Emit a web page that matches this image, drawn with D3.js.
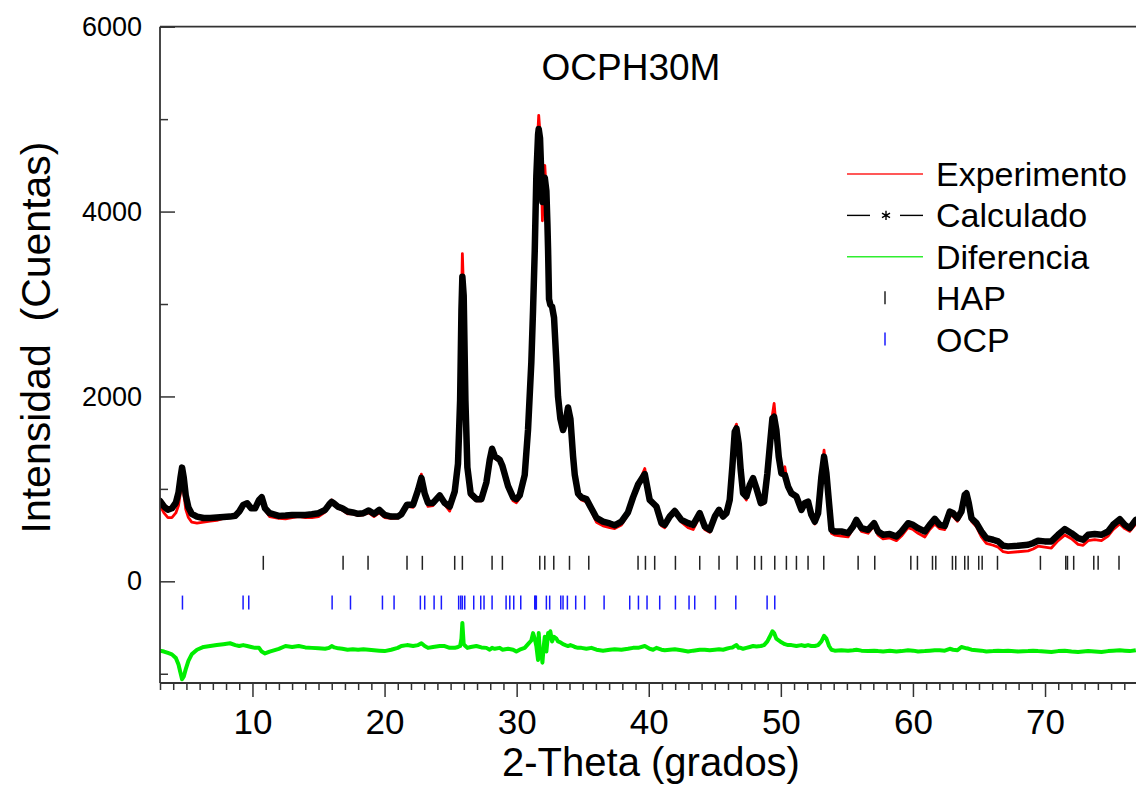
<!DOCTYPE html>
<html><head><meta charset="utf-8">
<script src="https://cdn.jsdelivr.net/npm/d3@7"></script>
<style>
html,body{margin:0;padding:0;background:#fff;}
svg{display:block;font-family:"Liberation Sans",Arial,sans-serif;}
</style></head>
<body>
<svg id="chart" width="1136" height="787"></svg>
<script>
// ---- DATA ----
const chartTitle = "OCPH30M";
const xTitle = "2-Theta (grados)";
const yTitle = "Intensidad  (Cuentas)";
const legendLabels = ["Experimento", "Calculado", "Diferencia", "HAP", "OCP"];
const xTickLabels = [10, 20, 30, 40, 50, 60, 70];
const yTickLabels = [0, 2000, 4000, 6000];

const twoTheta = [3.0,3.3,3.6,3.9,4.2,4.4,4.55,4.67,4.8,4.95,5.15,5.4,5.8,6.3,6.8,7.3,7.8,8.3,8.7,9.0,9.3,9.6,9.9,10.2,10.5,10.7,10.95,11.3,12.0,12.5,13.0,13.5,14.0,14.5,15.0,15.5,15.8,16.0,16.2,16.5,16.8,17.2,17.6,18.0,18.4,18.8,19.2,19.6,20.0,20.5,21.0,
21.27,21.7,22.16,22.54,22.79,23.04,23.29,23.67,24.18,24.55,24.93,25.31,25.56,25.72,25.82,25.89,25.99,26.12,26.27,26.52,26.95,27.33,27.71,27.96,28.14,28.34,28.72,28.92,29.35,29.73,29.98,30.23,30.61,30.86,31.11,31.24,31.37,31.49,31.62,31.67,31.77,31.87,31.95,32.05,32.13,32.25,32.33,32.38,32.45,32.55,32.68,32.83,33.01,33.13,33.31,33.51,33.69,33.89,34.07,34.27,34.4,34.65,34.9,35.28,35.66,36.04,36.54,37.05,37.42,37.93,38.43,38.81,
39.2,39.7,40.07,40.33,40.58,40.96,41.21,41.59,41.97,42.47,42.98,43.36,43.86,44.24,44.62,45.0,45.32,45.63,45.88,46.13,46.33,46.51,46.64,46.81,46.96,47.14,47.39,47.65,47.9,48.15,48.48,48.73,48.98,49.16,49.36,49.49,49.66,49.84,50.04,50.3,50.55,50.8,51.18,51.56,51.81,52.06,52.31,52.57,52.82,53.07,53.27,53.45,53.65,53.83,54.08,54.58,55.09,55.47,55.72,56.1,56.6,57.06,
57.36,57.74,58.25,58.75,59.13,59.63,60.01,60.39,60.9,61.27,61.65,62.03,62.41,62.79,63.04,63.37,63.67,63.92,64.05,64.23,64.43,64.81,65.18,65.56,66.07,66.45,66.83,67.2,67.96,68.72,69.1,69.47,69.98,70.48,70.99,71.49,72.0,72.5,72.88,73.26,73.76,74.27,74.77,75.15,75.66,76.04,76.41,76.87];

const calculado = [870,810,775,790,850,960,1120,1230,1120,930,800,730,700,685,685,690,695,700,710,755,827,845,790,790,880,910,790,737,708,712,718,718,718,725,737,773,830,860,840,805,790,755,745,730,737,766,730,773,718,700,700,
726,828,828,989,1120,949,848,848,929,848,808,970,1273,1960,2931,3296,3093,1960,1232,949,889,889,1071,1313,1434,1354,1313,1250,1030,908,889,929,1151,1637,2365,2931,3578,4387,4832,4894,4793,4387,4104,4306,4367,4225,3861,3578,3053,2993,2972,2852,2365,2001,1758,1637,1718,1880,1758,1354,1151,949,908,889,788,687,646,626,606,646,747,908,
1050,1160,881,845,809,629,611,701,760,665,629,611,737,593,557,701,773,701,737,881,1241,1618,1654,1492,1205,953,917,1043,1115,1007,845,863,1169,1456,1762,1780,1636,1349,1169,1151,1025,953,917,773,845,863,719,647,737,1133,1349,1169,845,557,539,539,521,593,665,575,557,629,
539,503,511,485,539,629,611,575,539,611,676,611,600,755,737,683,755,935,953,845,683,629,539,467,450,432,385,378,385,396,414,439,432,432,503,565,521,467,450,503,511,503,539,611,672,611,575,665];

const experimento = [820,740,690,690,740,820,960,1100,950,780,690,640,630,640,650,660,680,690,700,740,830,850,780,780,870,890,770,700,680,675,690,700,690,690,700,750,820,880,830,790,770,730,730,710,720,740,700,740,690,680,685,
710,810,800,980,1160,920,810,820,940,830,760,950,1250,1950,3000,3545,3100,1900,1200,920,870,870,1060,1280,1420,1330,1300,1220,1010,870,850,900,1140,1640,2360,2900,3560,4400,4900,5040,4850,4400,3900,4350,4500,4200,3850,3550,3050,3000,2950,2850,2400,2000,1750,1620,1700,1860,1740,1350,1130,930,880,860,760,640,600,580,570,610,720,890,
1050,1220,870,830,790,600,580,680,750,640,580,560,700,560,530,680,760,690,730,870,1240,1650,1700,1480,1200,940,880,1030,1110,1000,830,840,1160,1450,1800,1924,1650,1350,1160,1240,1010,940,900,760,860,850,700,620,720,1130,1420,1160,840,520,500,490,480,570,640,540,520,600,
500,460,470,440,490,580,560,520,480,560,620,570,560,720,700,650,720,900,930,820,650,590,480,410,390,370,320,310,320,330,350,380,370,360,440,500,460,400,390,440,450,440,490,560,620,570,540,620];

const diferencia = [-750,-760,-775,-790,-830,-900,-990,-1060,-1030,-950,-860,-790,-740,-710,-700,-690,-680,-670,-690,-700,-690,-700,-710,-720,-720,-760,-780,-760,-730,-700,-710,-700,-715,-720,-725,-730,-720,-700,-715,-725,-730,-740,-735,-740,-735,-740,-745,-750,-755,-740,-720,
-700,-690,-700,-690,-670,-700,-720,-710,-700,-700,-720,-720,-710,-700,-620,-450,-680,-700,-720,-710,-700,-715,-720,-740,-720,-730,-720,-740,-730,-740,-760,-740,-720,-680,-640,-560,-620,-700,-850,-560,-800,-760,-880,-700,-600,-760,-640,-560,-620,-540,-650,-600,-620,-650,-660,-680,-690,-700,-690,-700,-710,-720,-720,-730,-720,-740,-750,-740,-735,-740,-730,-720,
-720,-700,-730,-740,-720,-740,-745,-740,-735,-745,-760,-750,-740,-740,-745,-740,-735,-740,-730,-720,-715,-700,-690,-720,-720,-730,-720,-710,-700,-705,-700,-690,-650,-600,-540,-560,-620,-640,-660,-680,-690,-690,-700,-690,-700,-690,-700,-700,-690,-650,-590,-620,-700,-740,-750,-745,-750,-745,-740,-750,-755,-750,
-755,-760,-750,-760,-755,-745,-750,-760,-755,-750,-745,-745,-750,-730,-740,-745,-710,-720,-725,-730,-740,-745,-750,-760,-755,-750,-755,-750,-760,-755,-750,-755,-760,-765,-755,-750,-760,-765,-760,-755,-760,-765,-755,-750,-745,-750,-755,-745];

const hapPositions = [10.82,16.86,18.75,21.70,22.86,25.31,25.89,28.14,28.92,31.75,32.13,32.81,34.0,35.46,39.19,39.75,40.45,42.02,43.86,45.32,46.69,48.02,48.53,49.54,50.42,51.18,52.06,53.25,55.85,57.11,59.84,60.34,61.48,61.73,62.99,63.24,63.92,64.18,64.98,65.24,66.4,69.65,71.57,71.7,72.17,73.69,74.02,75.6];
const ocpPositions = [4.70,9.29,9.72,16.03,17.42,19.84,20.72,22.71,23.04,23.75,24.30,25.61,25.77,25.89,26.07,26.75,27.28,27.53,28.14,29.20,29.48,29.78,30.31,31.37,31.43,31.49,32.25,32.50,33.34,33.51,33.84,34.47,35.15,36.62,38.56,39.22,39.87,40.83,42.02,43.05,43.48,45.05,46.59,48.96,49.54];
const hapLevel = 200;
const ocpLevel = -230;

// ---- CHART ----
const svg = d3.select("#chart");
const pLeft = 160, pRight = 1137.5, pTop = 26.7, pBottom = 683;
const x = d3.scaleLinear().domain([3, 77]).range([pLeft, pRight]);
const y = d3.scaleLinear().domain([-1100, 6000]).range([pBottom, pTop]);

svg.append("clipPath").attr("id","plotclip").append("rect")
  .attr("x", pLeft).attr("y", pTop).attr("width", 1136-pLeft).attr("height", pBottom-pTop);

const plot = svg.append("g").attr("clip-path","url(#plotclip)");

const line = (vals) => d3.line().x((d,i)=>x(twoTheta[i])).y(d=>y(d))(vals);

plot.append("path").attr("d", line(experimento))
  .attr("fill","none").attr("stroke","#ff0000").attr("stroke-width",2.8).attr("stroke-linejoin","round");
plot.append("path").attr("d", line(calculado))
  .attr("fill","none").attr("stroke","#000").attr("stroke-width",6.5).attr("stroke-linejoin","round").attr("stroke-linecap","round");
plot.append("path").attr("d", line(diferencia))
  .attr("fill","none").attr("stroke","#00ee00").attr("stroke-width",4).attr("stroke-linejoin","round");

plot.selectAll("line.hap").data(hapPositions).enter().append("line").attr("class","hap")
  .attr("x1",d=>x(d)).attr("x2",d=>x(d))
  .attr("y1",y(hapLevel)-7).attr("y2",y(hapLevel)+7)
  .attr("stroke","#222").attr("stroke-width",1.5);
plot.selectAll("line.ocp").data(ocpPositions).enter().append("line").attr("class","ocp")
  .attr("x1",d=>x(d)).attr("x2",d=>x(d))
  .attr("y1",y(ocpLevel)-7).attr("y2",y(ocpLevel)+7)
  .attr("stroke","#1a1aff").attr("stroke-width",1.5);

// axes
const axisColor = "#333";
const xMinor = d3.range(3, 78, 1).filter(v => v % 10 !== 0);
const gxMinor = svg.append("g").attr("transform",`translate(0,${pBottom})`)
  .call(d3.axisBottom(x).tickValues(xMinor).tickSize(7).tickFormat(""));
const gx = svg.append("g").attr("transform",`translate(0,${pBottom})`)
  .call(d3.axisBottom(x).tickValues(xTickLabels).tickSize(14).tickPadding(12).tickFormat(d3.format("d")));
[gxMinor, gx].forEach(g => { g.select(".domain").remove(); g.selectAll("line").attr("stroke",axisColor).attr("stroke-width",1.5); });
gx.selectAll("text").attr("font-size",35).attr("fill","#000").attr("font-family","Liberation Sans, Arial, sans-serif");

const yMinor = [-1000, 1000, 3000, 5000];
const gyMinor = svg.append("g").attr("transform",`translate(${pLeft},0)`)
  .call(d3.axisLeft(y).tickValues(yMinor).tickSize(-8).tickFormat(""));
const gy = svg.append("g").attr("transform",`translate(${pLeft},0)`)
  .call(d3.axisLeft(y).tickValues(yTickLabels).tickSize(-15).tickPadding(18).tickFormat(d3.format("d")));
[gyMinor, gy].forEach(g => { g.select(".domain").remove(); g.selectAll("line").attr("stroke",axisColor).attr("stroke-width",1.5); });
gy.selectAll("text").attr("font-size",27).attr("fill","#000").attr("font-family","Liberation Sans, Arial, sans-serif");

// frame lines
svg.append("line").attr("x1",pLeft).attr("x2",pLeft).attr("y1",pTop).attr("y2",pBottom).attr("stroke",axisColor).attr("stroke-width",1.8);
svg.append("line").attr("x1",pLeft).attr("x2",1136).attr("y1",pTop).attr("y2",pTop).attr("stroke",axisColor).attr("stroke-width",1.8);
svg.append("line").attr("x1",pLeft).attr("x2",1136).attr("y1",pBottom).attr("y2",pBottom).attr("stroke",axisColor).attr("stroke-width",1.8);

// titles
svg.append("text").attr("x",651).attr("y",776).attr("text-anchor","middle").attr("font-size",40).text(xTitle);
svg.append("text").attr("transform","translate(50,337.5) rotate(-90)").attr("text-anchor","middle").attr("font-size",41)
  .style("white-space","pre").text(yTitle);
svg.append("text").attr("x",631).attr("y",80).attr("text-anchor","middle").attr("font-size",37).text(chartTitle);

// legend
const lg = svg.append("g");
const lx0 = 847, lx1 = 923, tx = 936, by0 = 186, dy = 41.4;
legendLabels.forEach((lab,i) => {
  const by = by0 + i*dy, cy = by - 12;
  lg.append("text").attr("x",tx).attr("y",by).attr("font-size",34).text(lab);
  if (i === 0) lg.append("line").attr("x1",lx0).attr("x2",lx1).attr("y1",cy).attr("y2",cy).attr("stroke","#ff2020").attr("stroke-width",1.6);
  if (i === 1) {
    lg.append("line").attr("x1",lx0).attr("x2",870).attr("y1",cy).attr("y2",cy).attr("stroke","#000").attr("stroke-width",1.4);
    lg.append("line").attr("x1",900).attr("x2",lx1).attr("y1",cy).attr("y2",cy).attr("stroke","#000").attr("stroke-width",1.4);
    lg.append("path").attr("d",d3.symbol(d3.symbolAsterisk,60)()).attr("transform",`translate(886,${cy})`)
      .attr("fill","none").attr("stroke","#000").attr("stroke-width",1.4);
  }
  if (i === 2) lg.append("line").attr("x1",lx0).attr("x2",lx1).attr("y1",cy).attr("y2",cy).attr("stroke","#30ee30").attr("stroke-width",1.6);
  if (i === 3) lg.append("line").attr("x1",885).attr("x2",885).attr("y1",cy-7).attr("y2",cy+6).attr("stroke","#222").attr("stroke-width",1.5);
  if (i === 4) lg.append("line").attr("x1",885).attr("x2",885).attr("y1",cy-7).attr("y2",cy+6).attr("stroke","#1a1aff").attr("stroke-width",1.5);
});
</script>
</body></html>
